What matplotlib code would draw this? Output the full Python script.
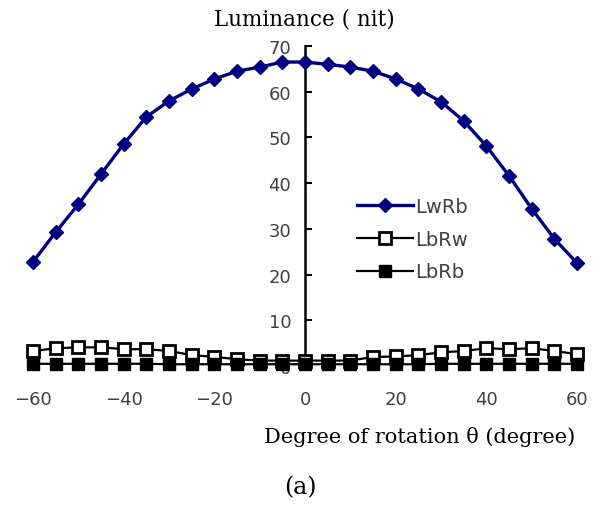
import matplotlib
matplotlib.use("Agg")
import matplotlib.pyplot as plt
import numpy as np

angles = list(range(-60, 61, 5))
lwrb = [22.8, 29.3, 35.4, 42.0, 48.6, 54.5, 58.0, 60.6, 62.8, 64.5, 65.4, 66.5, 66.5,
        66.0, 65.4, 64.5, 62.8, 60.6, 57.8, 53.6, 48.1, 41.6, 34.4, 27.8, 22.5]
lbrw = [3.3, 3.9, 4.1, 4.1, 3.7, 3.7, 3.3, 2.4, 2.0, 1.5, 1.2, 1.2, 1.2,
        1.2, 1.2, 2.0, 2.1, 2.4, 3.0, 3.3, 3.9, 3.7, 3.9, 3.3, 2.6]
lbrb = [0.5, 0.5, 0.5, 0.5, 0.5, 0.5, 0.4, 0.4, 0.4, 0.4, 0.4, 0.4, 0.4,
        0.4, 0.4, 0.4, 0.4, 0.4, 0.5, 0.5, 0.5, 0.5, 0.5, 0.5, 0.5]
yticks_vals = [0, 10, 20, 30, 40, 50, 60, 70]
xticks_vals = [-60, -40, -20, 0, 20, 40, 60]

serif = ["DejaVu Serif"]
sans = "DejaVu Sans"

fig = plt.figure(figsize=(6, 5.06), dpi=100)
ax = fig.add_axes([0.04, 0.261, 0.937, 0.646])

ax.plot(angles, lbrw, color="black", lw=1.6, marker="s", markersize=8.5,
        markerfacecolor="white", markeredgecolor="black", markeredgewidth=2,
        label="LbRw", zorder=3)
ax.plot(angles, lbrb, color="black", lw=1.6, marker="s", markersize=8.5,
        markerfacecolor="black", markeredgecolor="black", label="LbRb", zorder=4)
ax.plot(angles, lwrb, color="#000080", lw=2.4, marker="D", markersize=7.5,
        markerfacecolor="#000080", markeredgecolor="#000080", label="LwRb", zorder=5)

ax.set_xlim(-62, 62)
ax.set_ylim(-1.5, 70)

for s in ["top", "right", "bottom"]:
    ax.spines[s].set_visible(False)
ax.spines["left"].set_position(("data", 0))
ax.spines["left"].set_bounds(0, 70)
ax.spines["left"].set_linewidth(1.8)
ax.spines["left"].set_zorder(2)

ax.set_yticks(yticks_vals)
ax.set_xticks(xticks_vals)
ax.set_xticklabels([str(v).replace("-", "\u2212") for v in xticks_vals])
ax.tick_params(axis="y", direction="in", length=5, width=1.5, pad=10,
               labelsize=13, labelcolor="#404040")
ax.tick_params(axis="x", length=0, pad=12, labelsize=13, labelcolor="#404040")
for t in ax.get_xticklabels() + ax.get_yticklabels():
    t.set_family(sans)

handles, labels = ax.get_legend_handles_labels()
order = [2, 0, 1]
leg = ax.legend([handles[i] for i in order], [labels[i] for i in order],
                loc="upper left", bbox_to_anchor=(0.566, 0.643),
                bbox_transform=fig.transFigure, frameon=False,
                handlelength=2.85, handletextpad=0.15, labelspacing=0.7,
                prop={"family": sans, "size": 14})
for t in leg.get_texts():
    t.set_color("#404040")

fig.text(0.508, 0.962, "Luminance ( nit)", ha="center", va="center",
         family=serif, fontsize=15.5)
fig.text(0.958, 0.137, "Degree of rotation \u03b8 (degree)", ha="right", va="center",
         family=serif, fontsize=15)
fig.text(0.5, 0.036, "(a)", ha="center", va="center", family=serif, fontsize=17)

fig.savefig("out.png", dpi=100)
